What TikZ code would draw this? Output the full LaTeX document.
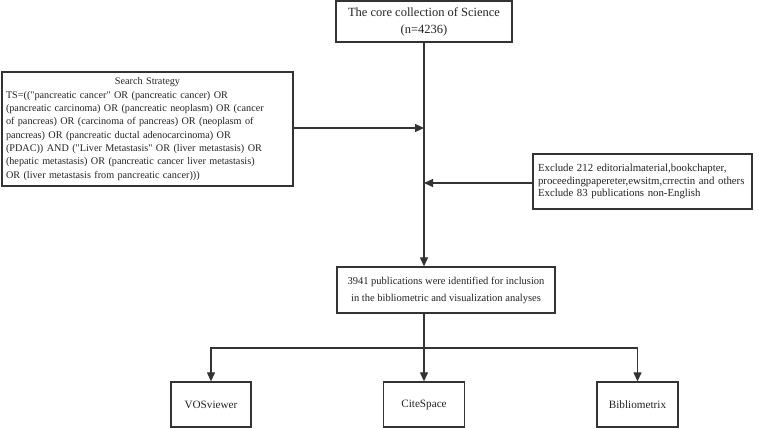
\documentclass[tikz,border=0pt]{standalone}
\usepackage{fontspec}
\setmainfont{Liberation Serif}[Ligatures=TeXOff]
\usetikzlibrary{arrows.meta}
\definecolor{ln}{HTML}{333333}
\definecolor{tx}{HTML}{222222}
\tikzset{
  box/.style={draw=ln, line width=1.3pt, inner sep=0pt, text=tx, align=center},
  conn/.style={draw=ln, line width=1.2pt},
  arr/.style={conn, -{Triangle[length=9pt,width=8pt]}}
}
\begin{document}
\begin{tikzpicture}[x=1pt,y=-1pt]
\useasboundingbox (0,0) rectangle (759,428);
\node[box, minimum width=176pt, minimum height=41pt, font=\fontsize{12.5}{17}\selectfont] (core) at (424,21.5)
  {The core collection of Science\\(n=4236)};
\node[box, minimum width=291pt, minimum height=114pt, text width=283pt, align=left, font=\fontsize{10.2}{13.3}\selectfont] (search) at (147.5,129)
  {\makebox[283pt]{Search Strategy}\\
   TS=(("pancreatic cancer" OR (pancreatic cancer) OR\\
   (pancreatic carcinoma) OR (pancreatic neoplasm) OR (cancer\\
   of pancreas) OR (carcinoma of pancreas) OR (neoplasm of\\
   pancreas) OR (pancreatic ductal adenocarcinoma) OR\\
   (PDAC)) AND ("Liver Metastasis" OR (liver metastasis) OR\\
   (hepatic metastasis) OR (pancreatic cancer liver metastasis)\\
   OR (liver metastasis from pancreatic cancer)))};
\node[box, minimum width=219pt, minimum height=55pt, text width=209pt, align=left, font=\fontsize{10.8}{12.4}\selectfont] (excl) at (642.5,181.5)
  {Exclude 212 editorialmaterial,bookchapter,\\
   proceedingpapereter,ewsitm,crrectin and others\\
   Exclude 83 publications non-English};
\node[box, minimum width=218pt, minimum height=46pt, font=\fontsize{10.5}{17}\selectfont] (incl) at (446,290)
  {3941 publications were identified for inclusion\\in the bibliometric and visualization analyses};
\node[box, minimum width=80pt, minimum height=45pt, font=\fontsize{11.2}{13}\selectfont] (vos) at (211,404.5) {VOSviewer};
\node[box, minimum width=81pt, minimum height=45pt, font=\fontsize{11.2}{13}\selectfont] (cite) at (424,404.5) {CiteSpace};
\node[box, minimum width=81pt, minimum height=45pt, font=\fontsize{11.2}{13}\selectfont] (biblio) at (637.5,404.5) {Bibliometrix};
\coordinate (j1) at (424,128);
\coordinate (j2) at (424,183);
\coordinate (j3) at (424,348);
\draw[arr] (core.south) -- (core.south |- incl.north);
\draw[arr] (search.east |- j1) -- (j1);
\draw[arr] (excl.west |- j2) -- (j2);
\draw[conn] (core.south |- incl.south) -- (j3);
\draw[arr] (j3) -- (cite.north);
\draw[arr] (j3) -| (vos.north);
\draw[arr] (j3) -| (biblio.north);
\end{tikzpicture}
\end{document}
